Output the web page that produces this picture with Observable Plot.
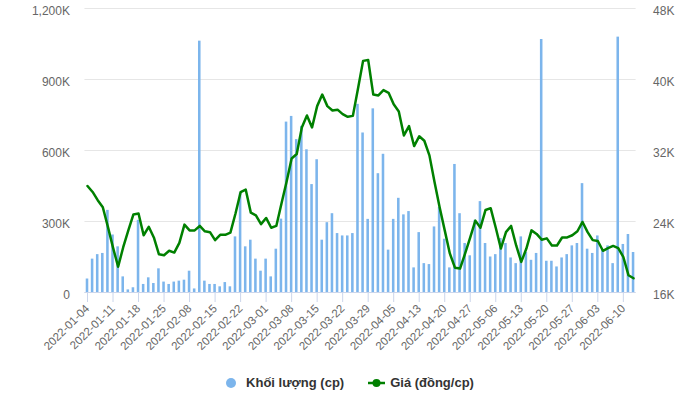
<!DOCTYPE html>
<html><head><meta charset="utf-8">
<script src="https://cdn.jsdelivr.net/npm/d3@7"></script>
<script src="https://cdn.jsdelivr.net/npm/@observablehq/plot@0.6"></script>
<style>
body{margin:0;background:#fff;font-family:"Liberation Sans",Arial,sans-serif;}
#wrap{position:relative;width:700px;height:394px;overflow:hidden}
#legend{position:absolute;top:374px;left:0;width:700px;display:flex;justify-content:center;align-items:center;font-weight:bold;font-size:13px;color:#333;line-height:18px}
#legend .item{display:flex;align-items:center}
#legend svg{display:block}
</style></head>
<body><div id="wrap"><div id="chart"></div>
<div id="legend">
  <div class="item"><svg width="10" height="10"><circle cx="5" cy="5" r="5" fill="#7cb5ec"/></svg><span style="margin-left:10px">Khối lượng (cp)</span></div>
  <div class="item" style="margin-left:24px"><svg width="17" height="10"><line x1="0" y1="5" x2="17" y2="5" stroke="#008000" stroke-width="2.5"/><circle cx="8.5" cy="5" r="4" fill="#008000"/></svg><span style="margin-left:5px">Giá (đồng/cp)</span></div>
</div></div>
<script>
const dates = [
"2022-01-04","2022-01-05","2022-01-06","2022-01-07","2022-01-10","2022-01-11","2022-01-12","2022-01-13","2022-01-14","2022-01-17",
"2022-01-18","2022-01-19","2022-01-20","2022-01-21","2022-01-24","2022-01-25","2022-01-26","2022-01-27","2022-01-28","2022-02-07",
"2022-02-08","2022-02-09","2022-02-10","2022-02-11","2022-02-14","2022-02-15","2022-02-16","2022-02-17","2022-02-18","2022-02-21",
"2022-02-22","2022-02-23","2022-02-24","2022-02-25","2022-02-28","2022-03-01","2022-03-02","2022-03-03","2022-03-04","2022-03-07",
"2022-03-08","2022-03-09","2022-03-10","2022-03-11","2022-03-14","2022-03-15","2022-03-16","2022-03-17","2022-03-18","2022-03-21",
"2022-03-22","2022-03-23","2022-03-24","2022-03-25","2022-03-28","2022-03-29","2022-03-30","2022-03-31","2022-04-01","2022-04-04",
"2022-04-05","2022-04-06","2022-04-07","2022-04-08","2022-04-12","2022-04-13","2022-04-14","2022-04-15","2022-04-18","2022-04-19",
"2022-04-20","2022-04-21","2022-04-22","2022-04-25","2022-04-26","2022-04-27","2022-04-28","2022-04-29","2022-05-04","2022-05-05",
"2022-05-06","2022-05-09","2022-05-10","2022-05-11","2022-05-12","2022-05-13","2022-05-16","2022-05-17","2022-05-18","2022-05-19",
"2022-05-20","2022-05-23","2022-05-24","2022-05-25","2022-05-26","2022-05-27","2022-05-30","2022-05-31","2022-06-01","2022-06-02",
"2022-06-03","2022-06-06","2022-06-07","2022-06-08","2022-06-09","2022-06-10","2022-06-13","2022-06-14"];

const volume = [
57000,141000,160000,165000,347000,243000,193000,66000,11000,20000,
305000,34000,62000,38000,100000,44000,34000,44000,48000,52000,
90000,15000,1062000,48000,34000,34000,24000,42000,24000,235000,
420000,193000,221000,141000,90000,141000,66000,183000,310000,720000,
744000,646000,702000,603000,456000,561000,221000,295000,333000,249000,
239000,239000,249000,795000,674000,309000,776000,502000,584000,179000,
309000,398000,328000,342000,104000,253000,122000,118000,277000,359000,
225000,104000,541000,333000,207000,155000,305000,384000,207000,150000,
160000,228000,207000,146000,122000,235000,169000,136000,165000,1069000,
132000,132000,108000,146000,160000,197000,207000,460000,183000,165000,
239000,179000,197000,122000,1079000,203000,245000,169000];

const price = [
28000,27330,26400,25600,23400,21060,18900,21100,23000,24800,
24900,22450,23400,22200,20300,20200,20700,20500,21600,23650,
23000,23000,23500,22900,22800,21900,22500,22500,22750,24900,
27300,27600,25000,24700,23700,24400,23300,23500,26000,28450,
31100,31600,34600,35950,34600,37000,38300,37000,36500,36600,
36100,35800,35900,38950,42100,42200,38300,38200,38800,38500,
37200,36400,33700,34750,32500,33600,33100,31450,28450,25600,
23000,20400,18800,18700,20400,22200,24100,23300,25300,25500,
23300,20950,22800,23500,21300,19450,20950,23000,22600,21950,
22100,21300,21300,22200,22200,22450,22900,23950,22800,21900,
21800,20700,21000,21250,21000,20000,17950,17600];

const xTickLabels = ["2022-01-04","2022-01-11","2022-01-18","2022-01-25","2022-02-08","2022-02-15","2022-02-22",
"2022-03-01","2022-03-08","2022-03-15","2022-03-22","2022-03-29","2022-04-05","2022-04-13","2022-04-20",
"2022-04-27","2022-05-06","2022-05-13","2022-05-20","2022-05-27","2022-06-03","2022-06-10"];
const volTicks = [0, 300000, 600000, 900000, 1200000];
const priceTicks = [16000, 24000, 32000, 40000, 48000];

const volDomain = [volTicks[0], volTicks[volTicks.length - 1]];
const priceDomain = [priceTicks[0], priceTicks[priceTicks.length - 1]];
const priceToVol = d3.scaleLinear().domain(priceDomain).range(volDomain);

const data = dates.map((d, i) => ({date: d, vol: volume[i], py: priceToVol(price[i])}));
const fmt = d3.format(",");

const chart = Plot.plot({
  width: 700, height: 360,
  marginLeft: 84.45, marginRight: 64.4, marginTop: 8, marginBottom: 68,
  style: {fontFamily: "'Liberation Sans', Arial, sans-serif", fontSize: "12px", color: "#666", background: "#fff"},
  x: {type: "band", domain: dates, paddingInner: 0.5, paddingOuter: 0.25, round: false, label: null},
  y: {domain: volDomain, label: null},
  marks: [
    Plot.gridY(volTicks, {stroke: "#e6e6e6", strokeOpacity: 1}),
    Plot.barY(data, {x: "date", y: "vol", fill: "#7cb5ec"}),
    Plot.ruleY([0], {stroke: "#ccd6eb"}),
    Plot.axisX(xTickLabels, {tickRotate: -45, tickSize: 10, tickPadding: 4, stroke: "#ccd6eb", fill: "#666", fontSize: 11.5, label: null}),
    Plot.axisY(volTicks, {anchor: "left", tickSize: 0, tickPadding: 15, dy: 3, fill: "#666", tickFormat: d => d === 0 ? "0" : fmt(d / 1000) + "K", label: null}),
    Plot.axisY(volTicks, {anchor: "right", tickSize: 0, tickPadding: 17, dy: 3, fill: "#666", tickFormat: d => (priceToVol.invert(d) / 1000) + "K", label: null}),
    Plot.lineY(data, {x: "date", y: "py", stroke: "#008000", strokeWidth: 2.5})
  ]
});
document.getElementById("chart").appendChild(chart);
</script>
</body></html>
